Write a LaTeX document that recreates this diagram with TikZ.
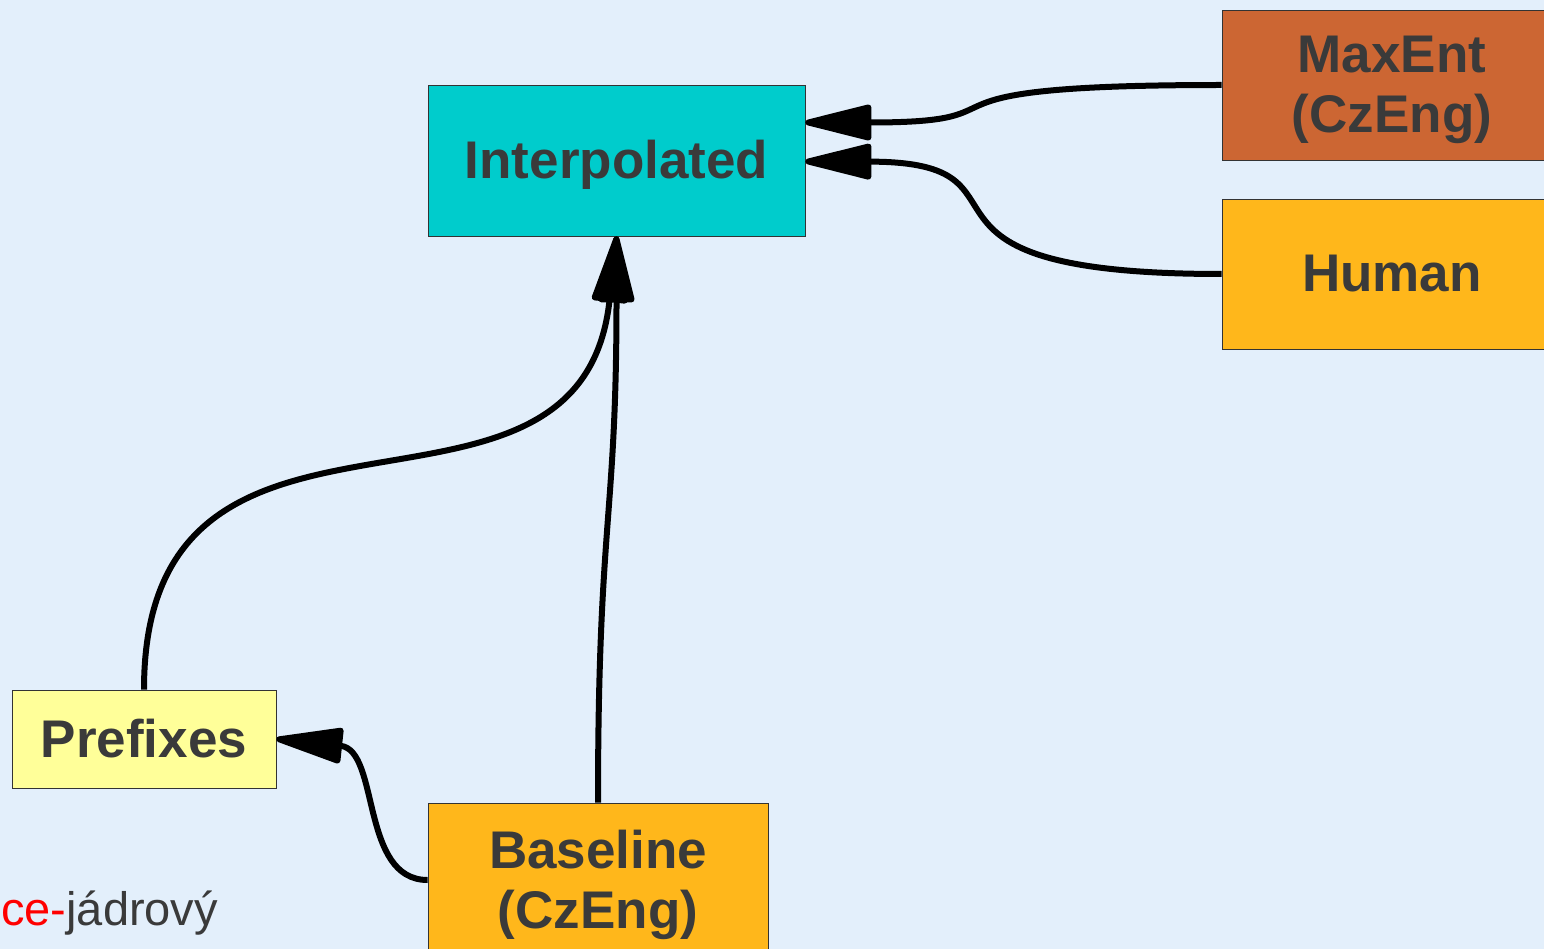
\documentclass[tikz,border=0pt]{standalone}
\usepackage{fontspec}
\setmainfont{Liberation Sans}
\usetikzlibrary{arrows.meta}
\definecolor{lmbg}{RGB}{227,239,251}
\definecolor{lmtext}{RGB}{58,58,58}
\definecolor{lmcyan}{RGB}{0,204,204}
\definecolor{lmrust}{RGB}{204,102,51}
\definecolor{lmamber}{RGB}{255,183,27}
\definecolor{lmpale}{RGB}{255,255,153}
% lower a line of box text without changing the box
\newcommand\lmdn[2][5pt]{\raisebox{-#1}[\height][\depth]{#2}}
\begin{document}
\begin{tikzpicture}[
  x=1pt, y=-1pt,
  lmbox/.style = {draw=black!80, line width=0.8pt, inner sep=0pt, align=center,
    text=lmtext, font=\fontsize{53}{60}\selectfont\bfseries},
  lmwide/.style = {lmbox, minimum width=340pt, minimum height=150pt},
  lmedge/.style = {line width=6pt, black,
    -{Triangle[length=76pt,width=36pt,round]}},
  lmlbl/.style = {font=\fontsize{47}{56}\selectfont, text=lmtext, inner sep=0pt}
]
  % background
  \useasboundingbox (0,0) rectangle (1544,949);
  \clip (0,0) rectangle (1544,949);
  \fill[lmbg] (0,0) rectangle (1544,949);
  % models
  \node[lmbox, fill=lmcyan, minimum width=377pt, minimum height=151pt]
    (interp) at (616.5,160.5) {\lmdn[4pt]{Interpolated}};
  \node[lmwide, fill=lmrust] (maxent) at (1392,85)
    {\lmdn{MaxEnt}\\\lmdn{(CzEng)}};
  \node[lmwide, fill=lmamber] (human) at (1392,274) {Human};
  \node[lmbox, fill=lmpale, minimum width=264pt, minimum height=98pt]
    (prefix) at (144,739) {Prefixes};
  \node[lmwide, fill=lmamber] (base) at (598,878)
    {\lmdn[7pt]{Baseline}\\\lmdn[7pt]{(CzEng)}};
  % corner label
  \node[lmlbl, anchor=base west] (corner) at (1,925)
    {{\color{red}ce-}jádrový};
  % connections
  \draw[lmedge] (maxent.west) .. controls (880,85) and (1044,122.5)
    .. ([yshift=38pt]interp.east);
  \draw[lmedge] (human.west) .. controls (870,274) and (1054,162)
    .. ([yshift=-1pt]interp.east);
  \draw[lmedge] (base.north) .. controls (598,520) and (616.5,520)
    .. (interp.south);
  \draw[lmedge] (prefix.north) .. controls (144,340) and (580,570)
    .. (interp.south);
  \draw[lmedge] ([yshift=-2pt]base.west) .. controls (360,880) and (380,750)
    .. (prefix.east);
\end{tikzpicture}
\end{document}
